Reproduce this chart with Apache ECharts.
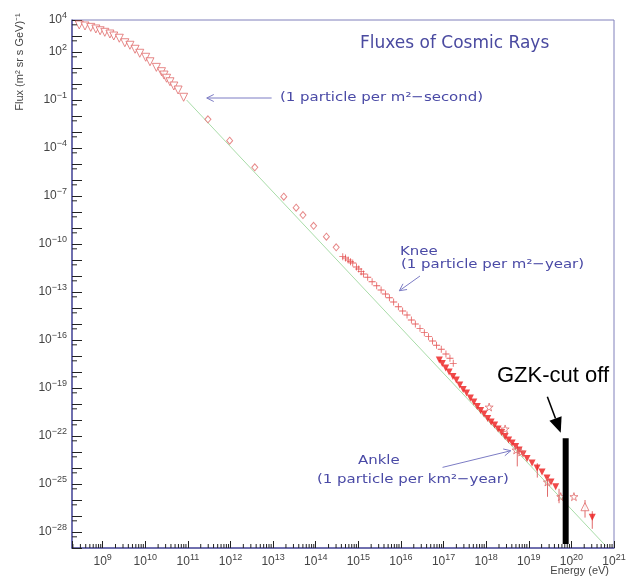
<!DOCTYPE html>
<html>
<head>
<meta charset="utf-8">
<script src="https://cdn.jsdelivr.net/npm/echarts@6/dist/echarts.min.js"></script>
<style>
html, body { margin: 0; padding: 0; background: #fff; overflow: hidden; }
#chart { width: 634px; height: 577px; }
</style>
</head>
<body>
<div id="chart"></div>
<script>
// both axes are in decades (log10 of energy in eV and of flux)
const xMin = 8.28, xMax = 21
const yMin = -29, yMax = 4
const xLabelled = [9, 10, 11, 12, 13, 14, 15, 16, 17, 18, 19, 20, 21]
const yLabelled = [-28, -25, -22, -19, -16, -13, -10, -7, -4, -1, 2, 4]

// low energy points (open triangles)
const lowE = [8.45, 8.585, 8.72, 8.84, 8.94, 9.05, 9.17, 9.26, 9.39, 9.52, 9.64, 9.76, 9.87, 10.01, 10.11, 10.26, 10.38, 10.44, 10.50, 10.58, 10.67, 10.77, 10.90]
const lowF = [3.69, 3.625, 3.54, 3.44, 3.33, 3.23, 3.125, 3.0, 2.86, 2.58, 2.42, 2.17, 1.92, 1.67, 1.39, 1.04, 0.77, 0.56, 0.36, 0.14, -0.125, -0.375, -0.83]

// diamonds
const diaE = [11.47, 11.98, 12.57, 13.25, 13.54, 13.70, 13.95, 14.25, 14.48]
const diaF = [-2.21, -3.54, -5.21, -7.04, -7.73, -8.19, -8.86, -9.54, -10.21]

// crosses around the knee
const crossE = [14.635, 14.698, 14.761, 14.815, 14.869, 14.955, 15.009, 15.066, 15.119, 15.22, 15.323, 15.431, 15.534, 15.635, 15.728, 15.829, 15.939, 16.04, 16.143, 16.244, 16.337, 16.447, 16.548, 16.649, 16.742, 16.836, 16.946, 17.056, 17.15, 17.227]
const crossF = [-10.79, -10.875, -11.0, -11.11, -11.19, -11.44, -11.56, -11.73, -11.875, -12.08, -12.36, -12.61, -12.875, -13.125, -13.36, -13.625, -13.92, -14.19, -14.44, -14.75, -15.0, -15.27, -15.54, -15.79, -16.06, -16.33, -16.58, -16.875, -17.14, -17.46]

// filled triangles (high energy)
const fillE = [16.90, 16.97, 17.05, 17.13, 17.22, 17.30, 17.38, 17.46, 17.54, 17.63, 17.71, 17.79, 17.87, 17.95, 18.035, 18.117, 18.199, 18.28, 18.363, 18.445, 18.527, 18.609, 18.691, 18.773, 18.866, 18.96, 19.077, 19.194, 19.311, 19.428, 19.522, 19.632]
const fillF = [-17.25, -17.47, -17.75, -18.0, -18.28, -18.5, -18.81, -19.09, -19.31, -19.625, -19.875, -20.16, -20.41, -20.625, -20.91, -21.125, -21.31, -21.56, -21.78, -22.03, -22.25, -22.44, -22.66, -22.875, -23.125, -23.41, -23.69, -24.0, -24.25, -24.625, -24.875, -25.17]

// open stars
const starE = [18.07, 18.445, 18.703, 18.82, 19.436, 19.75, 20.06]
const starF = [-20.19, -21.56, -22.875, -23.0, -24.875, -25.79, -25.79]

// last two points
const upE = [20.318], upF = [-26.42]
const downE = [20.49], downF = [-27.08]

// error bars: energy, upper, lower
const errBars = [[18.73, -22.6, -23.9], [19.20, -23.7, -24.6], [19.44, -24.6, -25.8], [19.71, -25.3, -26.2], [20.32, -26.0, -27.1], [20.49, -26.7, -27.8]]

// green reference power law
const fitE = [10.97, 20.8]
const fitF = [-1.0, -28.85]

// annotation arrows: from (E, F) to the head at (E, F)
const blueArrows = [[12.965, -0.875, 11.443, -0.875], [16.447, -12.0, 15.962, -12.92], [16.976, -23.96, 18.578, -22.92]]
const gzkArrow = [[19.436, -19.54, 19.75, -21.79]]
const gzkBar = [[19.866, -22.14, -28.75]]

const pairs = (a, b) => a.map((v, i) => [v, b[i]])

const xMinor = []
for (let d = 8; d <= 20; d++) {
    for (let k = 2; k <= 9; k++) {
        const v = d + Math.log10(k)
        if (v > xMin && v < xMax) xMinor.push([v, yMin])
    }
}
const yMinor = []
for (let d = yMin + 1; d <= yMax; d++) yMinor.push([xMin, d - 1 + Math.log10(5)])

function tickItem(len, onX) {
    return function (params, api) {
        const p = api.coord([api.value(0), api.value(1)])
        const q = onX ? [p[0], p[1] - len] : [p[0] + len, p[1]]
        return { type: 'line', shape: { x1: p[0], y1: p[1], x2: q[0], y2: q[1] }, style: { stroke: '#222', lineWidth: 1 } }
    }
}

// arrow drawn in data coords, head is open (chevron) or filled
function arrowItem(color, width, headLen, headHalf, filled) {
    return function (params, api) {
        const a = api.coord([api.value(0), api.value(1)])
        const b = api.coord([api.value(2), api.value(3)])
        const ang = Math.atan2(b[1] - a[1], b[0] - a[0])
        const bx = b[0] - headLen * Math.cos(ang), by = b[1] - headLen * Math.sin(ang)
        const nx = -Math.sin(ang) * headHalf, ny = Math.cos(ang) * headHalf
        const l = [bx + nx, by + ny], r = [bx - nx, by - ny]
        const head = filled
            ? { type: 'polygon', shape: { points: [b, l, r] }, style: { fill: color } }
            : { type: 'polyline', shape: { points: [l, b, r] }, style: { stroke: color, lineWidth: 1, fill: null } }
        const end = filled ? [bx, by] : b
        return {
            type: 'group', children: [
                { type: 'line', shape: { x1: a[0], y1: a[1], x2: end[0], y2: end[1] }, style: { stroke: color, lineWidth: width } },
                head
            ]
        }
    }
}

const sup = v => '{b|10}{s|' + (v < 0 ? '\u2212' + (-v) : v) + '}'
const rich = {
    b: { fontSize: 12, lineHeight: 18, color: '#444', fontFamily: 'Liberation Sans' },
    s: { fontSize: 9, lineHeight: 10, verticalAlign: 'top', color: '#444', fontFamily: 'Liberation Sans' }
}

const red = '#e03a3a'
const openRed = '#e06a6a'
const star = 'path://M50,0L61,35L98,35L68,57L79,91L50,70L21,91L32,57L2,35L39,35Z'
const plus = 'path://M4.4,0L5.6,0L5.6,4.4L10,4.4L10,5.6L5.6,5.6L5.6,10L4.4,10L4.4,5.6L0,5.6L0,4.4L4.4,4.4Z'
const arrowBlue = '#7c7cc4'
const noteFont = '13px "DejaVu Sans"'
const noteColor = '#4a4aa6'

function note(text, x, y) {
    return { type: 'text', x: x, y: y, scaleX: 1.15, style: { text: text, font: noteFont, fill: noteColor, verticalAlign: 'middle' } }
}

let myChart = echarts.init(document.getElementById('chart'))
myChart.setOption({
    animation: false,
    title: {
        text: 'Fluxes of Cosmic Rays',
        left: 360, top: 35, padding: 0,
        textStyle: { fontFamily: 'DejaVu Sans', fontSize: 17, fontWeight: 'normal', color: '#4a4aa0' }
    },
    grid: {
        left: 72, right: 20, top: 20, bottom: 29,
        show: true, borderColor: '#8080bb', borderWidth: 1
    },
    xAxis: {
        type: 'value', min: xMin, max: xMax,
        splitNumber: 13, minInterval: 1, maxInterval: 1,
        axisLine: { onZero: false, lineStyle: { color: '#5555a0', width: 1.5 } },
        axisTick: { inside: true, length: 7, lineStyle: { color: '#222' } },
        splitLine: { show: false },
        axisLabel: {
            margin: 5, rich: rich,
            formatter: v => xLabelled.includes(Math.round(v * 1000) / 1000) ? sup(Math.round(v)) : ''
        }
    },
    yAxis: {
        type: 'value', min: yMin, max: yMax, interval: 1,
        axisLine: { onZero: false, lineStyle: { color: '#5555a0', width: 1.5 } },
        axisTick: { inside: true, length: 10, lineStyle: { color: '#222' } },
        splitLine: { show: false },
        axisLabel: {
            margin: 5, rich: rich,
            formatter: v => yLabelled.includes(v) ? sup(v) : ''
        }
    },
    graphic: [
        note('(1 particle per m\u00b2\u2212second)', 280, 98),
        note('Knee', 400, 252),
        note('(1 particle per m\u00b2\u2212year)', 401, 265),
        note('Ankle', 358, 461),
        note('(1 particle per km\u00b2\u2212year)', 317, 480),
        { type: 'text', x: 497, y: 376, style: { text: 'GZK-cut off', font: '22px "Liberation Sans"', fill: '#000', verticalAlign: 'middle' } },
        { type: 'text', x: 20, y: 62, rotation: Math.PI / 2, style: { text: 'Flux (m\u00b2 sr s GeV)\u207b\u00b9', font: '11px "Liberation Sans"', fill: '#444', align: 'center', verticalAlign: 'middle' } },
        { type: 'text', x: 609, y: 571, style: { text: 'Energy (eV)', font: '11px "Liberation Sans"', fill: '#444', align: 'right', verticalAlign: 'middle' } }
    ],
    series: [
        {
            type: 'line', data: pairs(fitE, fitF), symbol: 'none', silent: true, z: 1,
            lineStyle: { color: '#a8dca8', width: 1 }
        },
        {
            type: 'scatter', data: pairs(lowE, lowF), symbol: 'triangle', symbolRotate: 180, symbolSize: 8,
            itemStyle: { color: '#fff', borderColor: openRed, borderWidth: 1 }
        },
        {
            type: 'scatter', data: pairs(diaE, diaF), symbol: 'diamond', symbolSize: [6, 7],
            itemStyle: { color: '#fff', borderColor: openRed, borderWidth: 1 }
        },
        {
            type: 'scatter', data: pairs(crossE, crossF), symbol: plus, symbolSize: 7,
            itemStyle: { color: red }
        },
        {
            type: 'custom', data: errBars, encode: { x: 0, y: [1, 2] }, z: 2, silent: true,
            renderItem: function (params, api) {
                const a = api.coord([api.value(0), api.value(1)])
                const b = api.coord([api.value(0), api.value(2)])
                return { type: 'line', shape: { x1: a[0], y1: a[1], x2: b[0], y2: b[1] }, style: { stroke: openRed, lineWidth: 1 } }
            }
        },
        {
            type: 'scatter', data: pairs(fillE, fillF), symbol: 'triangle', symbolRotate: 180, symbolSize: 7,
            itemStyle: { color: '#ec1c1c' }
        },
        {
            type: 'scatter', data: pairs(starE, starF), symbol: star, symbolSize: 8,
            itemStyle: { color: 'rgba(255,255,255,0)', borderColor: openRed, borderWidth: 1 }
        },
        {
            type: 'scatter', data: pairs(upE, upF), symbol: 'triangle', symbolSize: 8,
            itemStyle: { color: '#fff', borderColor: openRed, borderWidth: 1 }
        },
        {
            type: 'scatter', data: pairs(downE, downF), symbol: 'triangle', symbolRotate: 180, symbolSize: 7,
            itemStyle: { color: '#ec1c1c' }
        },
        {
            type: 'custom', data: xMinor, renderItem: tickItem(4, true), silent: true, z: 5
        },
        {
            type: 'custom', data: yMinor, renderItem: tickItem(5, false), silent: true, z: 5
        },
        {
            type: 'custom', data: blueArrows, encode: { x: [0, 2], y: [1, 3] }, silent: true, z: 6,
            renderItem: arrowItem(arrowBlue, 1, 7, 3.5, false)
        },
        {
            type: 'custom', data: gzkArrow, encode: { x: [0, 2], y: [1, 3] }, silent: true, z: 6,
            renderItem: arrowItem('#000', 1.5, 15, 6.5, true)
        },
        {
            type: 'custom', data: gzkBar, encode: { x: 0, y: [1, 2] }, silent: true, z: 6,
            renderItem: function (params, api) {
                const a = api.coord([api.value(0), api.value(1)])
                const b = api.coord([api.value(0), api.value(2)])
                return { type: 'line', shape: { x1: a[0], y1: a[1], x2: b[0], y2: b[1] }, style: { stroke: '#000', lineWidth: 6 } }
            }
        }
    ]
})
window.onresize = function () {
    myChart.resize()
}
</script>
</body>
</html>
